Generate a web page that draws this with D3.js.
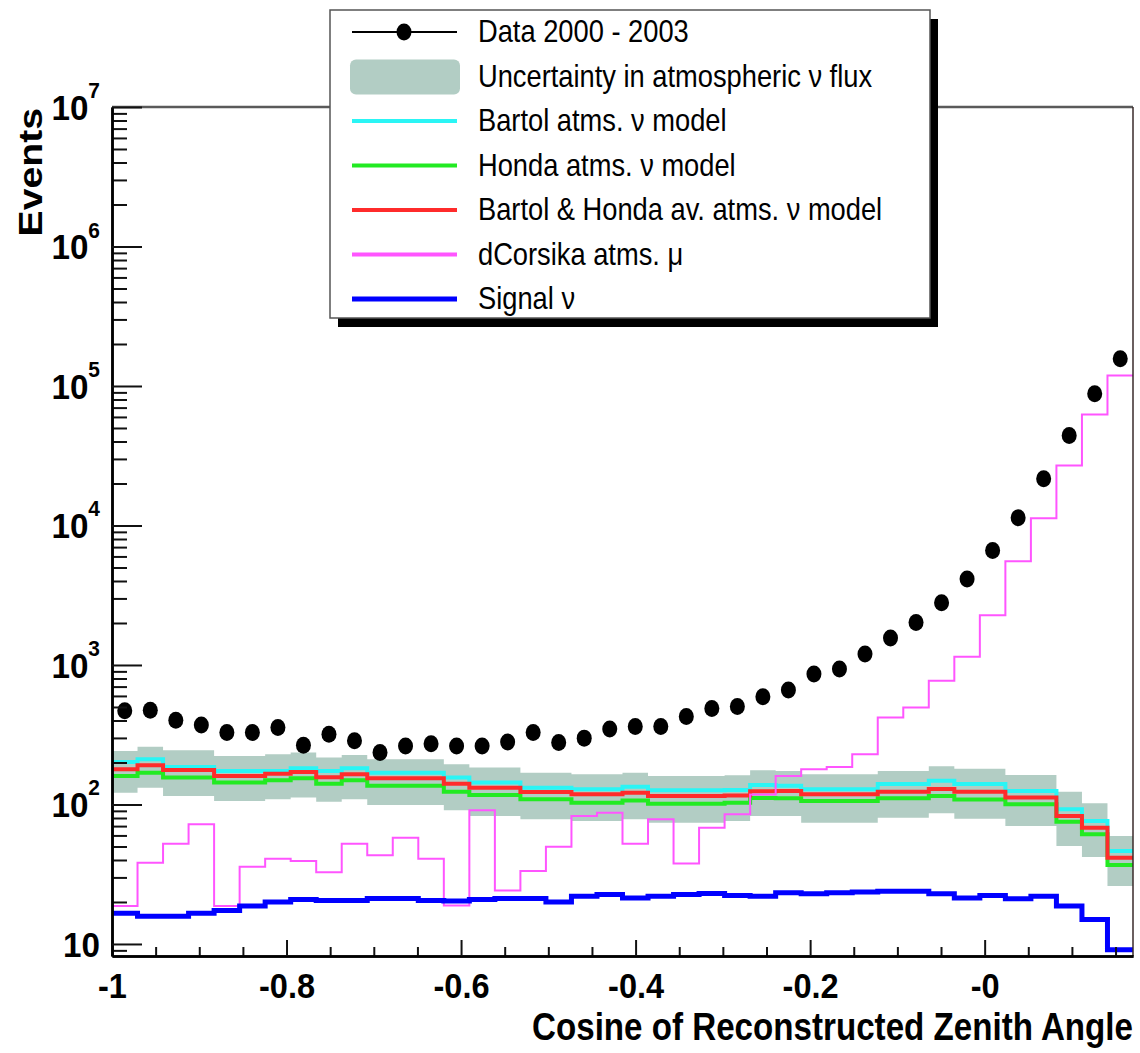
<!DOCTYPE html>
<html><head><meta charset="utf-8">
<script src="https://cdn.jsdelivr.net/npm/d3@7"></script>
<style>body{margin:0;background:#fff;} svg{display:block;font-family:"Liberation Sans",Arial,Helvetica,sans-serif;}</style>
</head><body><svg id="c" width="1140" height="1053"></svg>
<script>
// ---------- data ----------
const nBins = 40;
const xMin = -1, xMax = 0.17;
const yMin = 8.2, yMax = 1e7;

const dataCounts = [469, 474, 402, 372, 328, 328, 356, 266, 319, 286, 236, 263, 272, 263, 263, 281, 328, 278, 299, 347,
  362, 362, 427, 487, 504, 591, 661, 861, 935, 1197, 1560, 2018, 2797, 4141, 6607, 11350, 21600, 44200, 88100, 157000];
const bartol = [202, 211, 186, 186, 174, 174, 174, 182, 174, 182, 169, 169, 169, 156, 144, 144, 132, 132, 128.5, 128.5,
  134, 126.5, 126.5, 126.5, 127, 138, 136, 128.5, 128.5, 128.5, 140, 140, 148, 140, 140, 125, 125, 92.4, 76.2, 46.4];
const honda = [160, 169, 156, 156, 144, 144, 149, 154, 141, 149, 136, 136, 136, 123.3, 117, 117, 109, 109, 103, 103,
  107, 101.4, 101.4, 101.4, 103, 111.5, 111, 106, 106, 106, 111, 111, 115, 108.5, 108.5, 100.3, 100.3, 75.3, 61.1, 36.8];
const average = [179, 191, 177, 177, 160, 160, 166, 171, 157, 165, 154, 154, 154, 141, 132, 132, 123, 123, 118.3, 118.3,
  121.6, 115, 115, 115, 116, 124.5, 125, 118.3, 118.3, 118.3, 123.6, 123.6, 129, 123.3, 123.3, 112, 112, 82.6, 68.2, 41.5];
const bandHigh = [242, 259, 245, 245, 223, 223, 229, 236, 217, 226, 211, 211, 211, 194, 184, 184, 169, 169, 165, 165,
  169, 160, 160, 160, 162, 176, 174, 165, 165, 165, 174, 174, 188, 180, 180, 163, 163, 123.6, 102, 59.4];
const bandLow = [121.6, 132, 115, 115, 106, 106, 109, 112, 104.7, 109, 99, 99, 99, 90.8, 82.6, 82.6, 78.3, 78.3, 76.2, 76.2,
  78.3, 74, 74, 74, 76.2, 82.6, 82.6, 74, 74, 74, 80.4, 80.4, 86.5, 79, 79, 70.1, 70.1, 50.4, 42, 26];
const corsika = [18.7, 38.2, 52.3, 72.1, 18.7, 35.8, 40.8, 39.3, 32.7, 52.3, 43.2, 57.8, 40.8, 18.9, 90.8, 24.2, 33.3, 49.8, 82.6, 87.3,
  52.3, 78.3, 37.8, 68.2, 85.1, 118, 160, 179, 186, 229, 420, 495, 770, 1146, 2275, 5535, 11270, 26900, 62500, 119000];
const signal = [16.6, 15.8, 15.8, 16.6, 17.4, 18.7, 20.0, 20.8, 20.5, 20.5, 21.2, 21.2, 20.5, 20.3, 20.8, 21.2, 21.2, 20.0, 22.0, 22.6,
  21.4, 22.0, 22.6, 23.0, 22.3, 22.0, 23.3, 22.9, 23.3, 23.6, 23.9, 23.9, 22.9, 21.4, 22.3, 21.1, 22.0, 18.7, 15.0, 9.1];

const xTickValues = [-1, -0.8, -0.6, -0.4, -0.2, 0];
const xTickLabels = ["-1", "-0.8", "-0.6", "-0.4", "-0.2", "-0"];
const yTickExponents = [1, 2, 3, 4, 5, 6, 7];
const xTitle = "Cosine of Reconstructed Zenith Angle";
const yTitle = "Events";
const legendLabels = ["Data 2000 - 2003", "Uncertainty in atmospheric \u03bd flux", "Bartol atms. \u03bd model",
  "Honda atms. \u03bd model", "Bartol & Honda av. atms. \u03bd model", "dCorsika atms. \u03bc", "Signal \u03bd"];

// ---------- layout ----------
const L = 112, R = 1133, T = 107, B = 956;
const svg = d3.select("#c");
const x = d3.scaleLinear().domain([xMin, xMax]).range([L, R]);
const y = d3.scaleLog().domain([yMin, yMax]).range([B, T]);

const edges = d3.range(nBins + 1).map(i => xMin + i * (xMax - xMin) / nBins);
const centers = d3.range(nBins).map(i => (edges[i] + edges[i + 1]) / 2);

svg.append("defs").append("clipPath").attr("id", "clip")
  .append("rect").attr("x", L).attr("y", T).attr("width", R - L).attr("height", B - T);

const plot = svg.append("g").attr("clip-path", "url(#clip)");

const steps = vals => vals.flatMap((v, i) => [[edges[i], v], [edges[i + 1], v]]);
const line = d3.line().x(d => x(d[0])).y(d => y(d[1]));

const colBand = "#b2cdc4", colCyan = "#2af5f5", colGreen = "#22ea22", colRed = "#ff2b2b", colMag = "#ff55ff", colBlue = "#0000ff";

// band
const bandPts = bandLow.flatMap((lo, i) => [[edges[i], lo, bandHigh[i]], [edges[i + 1], lo, bandHigh[i]]]);
plot.append("path").datum(bandPts)
  .attr("d", d3.area().x(d => x(d[0])).y0(d => y(d[1])).y1(d => y(d[2])))
  .attr("fill", colBand);

const series = [
  {vals: bartol, color: colCyan, w: 4},
  {vals: honda, color: colGreen, w: 4},
  {vals: average, color: colRed, w: 4},
  {vals: corsika, color: colMag, w: 2},
  {vals: signal, color: colBlue, w: 5}
];
series.forEach(s => {
  plot.append("path").datum(steps(s.vals)).attr("d", line)
    .attr("fill", "none").attr("stroke", s.color).attr("stroke-width", s.w)
    .attr("stroke-linejoin", "miter");
});

// data points
plot.selectAll("ellipse.dot").data(dataCounts).join("ellipse").attr("class", "dot")
  .attr("cx", (d, i) => x(centers[i])).attr("cy", d => y(d))
  .attr("rx", 7.5).attr("ry", 8.5).attr("fill", "#000");

// frame (top/right)
svg.append("line").attr("x1", L).attr("x2", R).attr("y1", T).attr("y2", T).attr("stroke", "#5a5a5a").attr("stroke-width", 2.5);
svg.append("line").attr("x1", R).attr("x2", R).attr("y1", T).attr("y2", B).attr("stroke", "#3a2a2a").attr("stroke-width", 1.5);

// x axis
const xMinorVals = d3.range(0, 24).map(i => -1 + i * 0.05).filter(v => v <= xMax && !xTickValues.some(t => Math.abs(t - v) < 1e-6));
const gxm = svg.append("g").attr("transform", `translate(0,${B})`)
  .call(d3.axisBottom(x).tickValues(xMinorVals).tickSize(-9).tickFormat("").tickSizeOuter(0));
const gx = svg.append("g").attr("transform", `translate(0,${B})`)
  .call(d3.axisBottom(x).tickValues(xTickValues).tickSize(-16).tickPadding(17)
    .tickFormat((d, i) => xTickLabels[i]).tickSizeOuter(0));
[gxm, gx].forEach(g => {
  g.select(".domain").attr("stroke", "#000").attr("stroke-width", 2.5);
  g.selectAll(".tick line").attr("stroke", "#111").attr("stroke-width", 2);
});
gx.selectAll(".tick text").attr("font-size", 35).attr("font-weight", "bold").attr("fill", "#000")
  .attr("font-family", "'Liberation Sans', Arial, sans-serif").attr("transform", "scale(0.93,1)");

// y axis
const yMajorVals = yTickExponents.map(e => Math.pow(10, e));
const yMinorVals = [];
for (let e = 0; e <= 6; e++) for (let m = 2; m <= 9; m++) {
  const v = m * Math.pow(10, e);
  if (v >= yMin && v <= yMax) yMinorVals.push(v);
}
const gym = svg.append("g").attr("transform", `translate(${L},0)`)
  .call(d3.axisLeft(y).tickValues(yMinorVals).tickSize(-15).tickFormat("").tickSizeOuter(0));
const gy = svg.append("g").attr("transform", `translate(${L},0)`)
  .call(d3.axisLeft(y).tickValues(yMajorVals).tickSize(-30).tickFormat("").tickSizeOuter(0));
[gym, gy].forEach(g => {
  g.select(".domain").attr("stroke", "#000").attr("stroke-width", 2.5);
  g.selectAll(".tick line").attr("stroke", "#111").attr("stroke-width", 2);
});
// y tick labels
yTickExponents.forEach(e => {
  const yy = y(Math.pow(10, e));
  const g = svg.append("g").attr("transform", `translate(100,${yy + 13}) scale(0.95,1)`);
  const t = g.append("text").attr("text-anchor", "end").attr("font-weight", "bold").attr("font-size", 35).attr("fill", "#000");
  if (e === 1) {
    t.text("10");
  } else {
    t.append("tspan").text("10");
    t.append("tspan").attr("font-size", 22).attr("dy", -22).text(String(e));
  }
});

// axis titles
svg.append("g").attr("transform", `translate(${R},1040) scale(0.85,1)`)
  .append("text").attr("text-anchor", "end").attr("font-weight", "bold").attr("font-size", 39).attr("fill", "#000")
  .text(xTitle);
svg.append("g").attr("transform", `translate(42,108) rotate(-90) scale(1.17,1)`)
  .append("text").attr("text-anchor", "end").attr("font-weight", "bold").attr("font-size", 33.5).attr("fill", "#000")
  .text(yTitle);

// legend
const lg = svg.append("g");
const LX = 330, LY = 10, LW = 600, LH = 308;
lg.append("rect").attr("x", LX + 8).attr("y", LY + 9).attr("width", LW).attr("height", LH).attr("fill", "#000");
lg.append("rect").attr("x", LX).attr("y", LY).attr("width", LW).attr("height", LH).attr("fill", "#fff")
  .attr("stroke", "#555").attr("stroke-width", 1.5);
const legendStyles = [
  {type: "data"}, {type: "band"},
  {type: "line", color: colCyan, w: 4}, {type: "line", color: colGreen, w: 4},
  {type: "line", color: colRed, w: 4}, {type: "line", color: colMag, w: 4},
  {type: "line", color: colBlue, w: 5}
];
legendLabels.forEach((lab, i) => {
  const cy = 32 + i * 44.5;
  const st = legendStyles[i];
  if (st.type === "data") {
    lg.append("line").attr("x1", 352).attr("x2", 457).attr("y1", cy).attr("y2", cy).attr("stroke", "#000").attr("stroke-width", 2);
    lg.append("ellipse").attr("cx", 404).attr("cy", cy).attr("rx", 7.5).attr("ry", 8.5).attr("fill", "#000");
  } else if (st.type === "band") {
    lg.append("rect").attr("x", 350).attr("y", cy - 17).attr("width", 110).attr("height", 35).attr("rx", 6).attr("fill", colBand);
  } else {
    lg.append("line").attr("x1", 352).attr("x2", 457).attr("y1", cy).attr("y2", cy).attr("stroke", st.color).attr("stroke-width", st.w);
  }
  lg.append("g").attr("transform", `translate(478,${cy + 10}) scale(0.88,1)`)
    .append("text").attr("font-size", 31).attr("fill", "#000").text(lab);
});
</script></body></html>
